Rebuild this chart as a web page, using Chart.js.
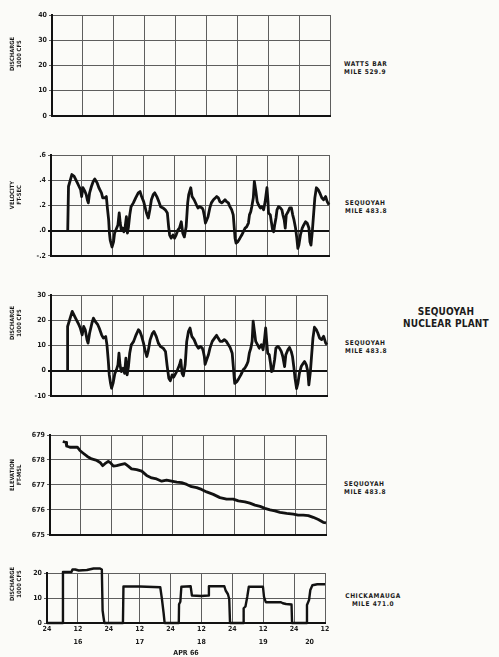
<!DOCTYPE html>
<html>
<head>
<meta charset="utf-8">
<script src="https://cdn.jsdelivr.net/npm/chart.js@4.4.1/dist/chart.umd.min.js"></script>
<style>
body { margin: 0; width: 499px; height: 657px; overflow: hidden; position: relative; background: #fbfbf8;
  font-family: 'DejaVu Sans Condensed', 'DejaVu Sans', sans-serif; font-weight: bold; color: #1b1b1b; }
canvas { position: absolute; left: 0; }
.side { position: absolute; font-size: 6.5px; line-height: 8px; letter-spacing: 0.6px; white-space: nowrap; }
.ytitle { position: absolute; font-size: 5.8px; line-height: 6.5px; text-align: center; white-space: nowrap;
  transform: translate(-50%, -50%) rotate(-90deg); }
.plant { position: absolute; font-size: 10px; line-height: 12px; text-align: center; white-space: nowrap; letter-spacing: 0.2px; }
</style>
</head>
<body>
<canvas id="c1"></canvas>
<canvas id="c2"></canvas>
<canvas id="c3"></canvas>
<canvas id="c4"></canvas>
<canvas id="c5"></canvas>

<div class="ytitle" style="left:15px;top:54px">DISCHARGE<br>1000 CFS</div>
<div class="ytitle" style="left:15px;top:195px">VELOCITY<br>FT-SEC</div>
<div class="ytitle" style="left:15px;top:323px">DISCHARGE<br>1000 CFS</div>
<div class="ytitle" style="left:15px;top:475px">ELEVATION<br>FT-MSL</div>
<div class="ytitle" style="left:15px;top:584px">DISCHARGE<br>1000 CFS</div>

<div class="side" style="left:344px;top:60px">WATTS BAR<br>MILE 529.9</div>
<div class="side" style="left:345px;top:199px">SEQUOYAH<br>MILE 483.8</div>
<div class="side" style="left:345px;top:339px">SEQUOYAH<br>MILE 483.8</div>
<div class="plant" style="left:396px;top:306px;width:100px">SEQUOYAH<br>NUCLEAR PLANT</div>
<div class="side" style="left:344px;top:480px">SEQUOYAH<br>MILE 483.8</div>
<div class="side" style="left:340px;top:592px;text-align:center;width:66px">CHICKAMAUGA<br>MILE 471.0</div>

<script>
// x axis: hours from 24:00 Apr 15 to 12:00 Apr 20
const HOUR_TICKS = [0, 12, 24, 36, 48, 60, 72, 84, 96, 108];
const HOUR_LABELS = ['24', '12', '24', '12', '24', '12', '24', '12', '24', '12'];
const DAY_TICKS = [12, 36, 60, 84, 102];
const DAY_LABELS = ['16', '17', '18', '19', '20'];
const MONTH_LABEL = 'APR 66';

// y ticks per panel
const WATTS_TICKS = [0, 10, 20, 30, 40];
const WATTS_LABELS = ['0', '10', '20', '30', '40'];
const VEL_TICKS = [-0.2, 0, 0.2, 0.4, 0.6];
const VEL_LABELS = ['-.2', '.0', '.2', '.4', '.6'];
const SEQ_Q_TICKS = [-10, 0, 10, 20, 30];
const SEQ_Q_LABELS = ['-10', '0', '10', '20', '30'];
const ELEV_TICKS = [675, 676, 677, 678, 679];
const ELEV_LABELS = ['675', '676', '677', '678', '679'];
const CHICK_TICKS = [0, 10, 20];
const CHICK_LABELS = ['0', '10', '20'];

// Sequoyah velocity, ft/sec
const velHours = [6.5, 6.8, 8.1, 9.0, 10.2, 10.9, 11.5, 11.9, 12.4, 13.2, 13.7, 14.1, 14.5, 15.0, 15.7, 16.4, 17.0, 17.9, 18.6, 19.6,
  20.1, 20.9, 21.5, 21.9, 22.4, 22.7, 23.0, 23.7, 24.3, 24.7, 25.2, 26.0, 26.5, 26.9, 27.3, 27.8, 28.3, 28.8, 29.3, 29.7,
  30.1, 30.6, 31.1, 32.0, 32.9, 33.9, 34.6, 35.2, 36.0, 36.5, 37.1, 37.8, 38.4, 39.0, 39.7, 40.3, 41.1, 41.9, 42.6, 43.5,
  44.4, 45.2, 45.7, 46.1, 46.7, 47.4, 48.0, 48.6, 49.3, 49.9, 50.6, 51.2, 51.8, 52.5, 53.1, 53.5, 54.3, 54.8, 55.6, 56.5,
  57.1, 57.8, 58.7, 59.1, 59.5, 60.0, 60.5, 61.0, 61.7, 62.3, 63.1, 63.9, 64.4, 65.0, 65.6, 66.3, 66.9, 67.6, 68.2, 68.9,
  69.5, 70.2, 70.8, 71.2, 71.5, 71.9, 72.5, 73.4, 74.1, 74.7, 75.4, 76.0, 76.7, 77.1, 77.6, 78.0, 78.6, 79.0, 79.6, 80.1,
  80.6, 81.3, 81.9, 82.6, 83.2, 83.9, 84.3, 84.5, 85.2, 85.6, 86.1, 86.5, 86.9, 87.4, 87.8, 88.4, 89.1, 89.7, 90.1, 90.6,
  91.0, 91.4, 92.1, 92.7, 93.4, 93.9, 94.4, 95.0, 95.5, 95.9, 96.3, 96.9, 97.6, 98.2, 98.9, 99.5, 100.2, 100.6, 101.0, 101.5,
  102.0, 102.5, 103.1, 103.8, 104.4, 105.2, 105.9, 106.7, 107.3, 108.0];
const velValues = [0, .35, .445, .43, .38, .35, .325, .27, .34, .31, .285, .245, .22, .30, .35, .39, .41, .38, .34, .30,
  .26, .26, .27, .18, .085, -.02, -.075, -.13, -.09, -.02, .005, .045, .14, .06, .005, .02, -.01, .03, .11, -.02,
  .03, .125, .19, .22, .26, .30, .31, .27, .23, .19, .14, .10, .165, .245, .285, .30, .27, .23, .19, .18,
  .165, .14, .03, -.035, -.06, -.035, -.06, -.035, .005, .02, .07, -.02, -.05, .03, .22, .285, .34, .27, .245, .205,
  .18, .19, .18, .165, .125, .06, .085, .11, .18, .22, .245, .26, .27, .26, .23, .22, .23, .245, .23, .22,
  .19, .165, .125, .02, -.06, -.10, -.09, -.06, -.035, -.01, .02, .03, .06, .125, .15, .19, .26, .39, .31, .23,
  .205, .18, .19, .165, .23, .34, .23, .14, .125, .07, .005, -.01, .045, .10, .165, .19, .18, .165, .125, .085,
  .02, .125, .15, .18, .18, .125, .085, .02, -.06, -.14, -.115, -.035, .02, .045, .07, .06, .02, -.09, -.115, -.01,
  .125, .26, .34, .325, .30, .26, .245, .27, .23, .205];

// Sequoyah discharge, 1000 cfs
const seqHours = [6.4, 6.5, 8.3, 9.6, 10.9, 11.5, 12.2, 12.8, 13.4, 14.1, 14.5, 15.1, 16.0, 16.6, 17.3, 18.3, 18.9, 19.8, 20.5, 21.4,
  21.9, 22.4, 22.8, 23.3, 23.7, 24.3, 25.0, 25.6, 26.2, 26.6, 27.0, 27.5, 28.2, 28.8, 29.3, 29.8, 30.3, 30.8, 31.4, 32.3,
  33.3, 34.2, 34.8, 35.5, 36.2, 36.9, 37.5, 38.0, 38.8, 39.7, 40.3, 41.2, 42.0, 42.9, 43.9, 44.8, 45.4, 46.1, 46.7, 47.4,
  48.0, 48.8, 49.5, 50.3, 50.8, 51.3, 51.8, 52.5, 53.1, 53.8, 54.4, 55.1, 56.0, 56.8, 57.7, 58.4, 59.2, 59.6, 60.0, 60.3,
  60.9, 61.6, 62.2, 63.1, 64.2, 64.8, 65.4, 66.2, 67.0, 67.8, 68.6, 69.3, 70.1, 70.9, 71.4, 71.7, 71.9, 72.7, 73.5, 74.3,
  75.2, 75.8, 76.6, 77.1, 77.6, 78.2, 78.7, 79.1, 79.6, 80.1, 80.8, 81.5, 82.3, 83.0, 83.6, 84.0, 84.4, 84.8, 85.4, 85.9,
  86.3, 86.8, 87.5, 88.0, 88.8, 89.4, 90.1, 90.7, 91.4, 91.9, 92.7, 93.3, 94.0, 94.5, 95.0, 95.5, 96.1, 96.6, 97.2, 97.9,
  98.7, 99.2, 99.9, 100.5, 100.9, 101.5, 102.0, 102.5, 103.1, 103.8, 104.4, 105.1, 105.9, 106.7, 107.5, 108.0];
const seqValues = [0, 17.5, 23.5, 20.8, 18.2, 16.8, 14.2, 17.5, 16.2, 12.2, 10.9, 14.8, 18.8, 20.8, 19.5, 18.2, 16.8, 14.2, 12.9, 13.5,
  10.2, 4.2, -1.7, -5.0, -7.0, -5.0, -1.1, 0.3, 2.3, 6.9, 2.3, -0.4, 0.9, -1.1, 4.9, -1.7, 1.6, 6.9, 10.2, 11.5,
  14.2, 16.2, 15.5, 13.5, 10.9, 7.6, 5.6, 7.6, 12.2, 14.8, 15.5, 13.5, 10.9, 9.5, 8.9, 7.6, 2.3, -3.0, -4.0, -1.7,
  -2.6, -1.1, 0.3, 2.3, 4.2, -1.1, -2.1, 2.3, 11.5, 15.6, 16.9, 13.6, 12.3, 10.3, 8.9, 9.6, 8.9, 7.6, 5.6, 2.5,
  4.3, 6.3, 8.9, 11.6, 13.2, 14.0, 12.9, 11.6, 11.6, 12.3, 11.6, 10.5, 9.2, 6.9, 0.9, -3.1, -5.1, -4.4, -3.1, -1.7,
  0.3, 0.9, 2.3, 3.6, 6.9, 8.9, 11.6, 19.6, 15.6, 11.6, 10.3, 8.9, 10.3, 8.3, 12.9, 16.9, 11.6, 6.9, 6.3, 2.9,
  -0.4, -0.1, 4.3, 8.9, 9.6, 8.9, 7.6, 5.6, 1.6, 6.3, 8.3, 9.2, 7.6, 5.6, 1.6, -3.1, -7.1, -5.1, -1.1, 1.6,
  2.9, 3.6, 2.3, -0.4, -5.7, -0.4, 6.3, 12.9, 17.2, 16.3, 14.9, 12.9, 12.3, 13.6, 10.9, 10.3];

// Sequoyah elevation, ft-msl
const elevHours = [5.0, 6.3, 6.5, 7.8, 9.1, 10.7, 11.7, 13.0, 14.6, 16.3, 18.3, 19.6, 20.6, 21.5, 22.8, 23.7, 24.8, 26.1, 27.6, 29.3,
  30.6, 31.9, 33.9, 35.9, 37.8, 39.8, 41.7, 43.7, 45.6, 47.6, 49.6, 51.5, 53.5, 55.4, 57.4, 59.3, 61.3, 63.9, 66.5, 69.1,
  71.7, 73.7, 76.3, 78.2, 80.2, 82.2, 84.1, 86.1, 88.0, 90.0, 92.6, 95.2, 97.1, 99.1, 101.1, 103.0, 105.0, 106.9, 108.0];
const elevValues = [678.74, 678.70, 678.56, 678.51, 678.51, 678.51, 678.38, 678.27, 678.14, 678.04, 677.98, 677.90, 677.77, 677.85, 677.94, 677.88, 677.75, 677.77, 677.81, 677.85,
  677.75, 677.64, 677.61, 677.55, 677.38, 677.28, 677.24, 677.15, 677.19, 677.15, 677.11, 677.09, 677.02, 676.93, 676.89, 676.82, 676.72, 676.62, 676.49, 676.43,
  676.43, 676.36, 676.32, 676.27, 676.19, 676.14, 676.06, 676.00, 675.96, 675.90, 675.86, 675.83, 675.79, 675.79, 675.77, 675.70, 675.61, 675.50, 675.48];

// Chickamauga discharge, 1000 cfs
const chickHours = [0, 6.0, 6.2, 9.5, 9.9, 11.0, 12.3, 15.5, 18.1, 20.6, 21.3, 21.6, 22.0, 22.3,
  29.5, 29.7, 36.0, 44.0, 44.6, 45.3, 45.7,
  51.2, 51.3, 51.8, 52.2, 55.8, 56.3, 60.0, 62.6, 62.9, 68.9, 69.4, 70.3, 70.8, 71.1,
  76.3, 76.4, 77.1, 77.8, 78.4, 83.9, 84.3, 85.0, 90.9, 91.6, 92.9, 95.0, 95.2,
  100.9, 101.0, 101.8, 102.3, 103.1, 105.0, 108.0];
const chickValues = [0, 0, 20.4, 20.4, 21.4, 21.4, 21.0, 21.2, 21.8, 21.8, 21.4, 5, 2, 0,
  0, 14.6, 14.6, 14.3, 10, 4, 0,
  0, 7.5, 8.5, 14.5, 14.7, 11, 10.8, 11, 14.7, 14.7, 13, 11.5, 9.5, 0,
  0, 5.9, 6.6, 10.5, 14.5, 14.5, 10.5, 8.3, 8.3, 7.9, 7.6, 7.4, 0,
  0, 7.2, 9.2, 13.2, 15.1, 15.5, 15.5];

Chart.defaults.font.family = "'DejaVu Sans Condensed', 'DejaVu Sans', sans-serif";
Chart.defaults.font.size = 7;
Chart.defaults.font.weight = 'bold';
Chart.defaults.color = '#1b1b1b';

const INK = '#121212';
const GRID = '#5e5e5e';

function pts(hours, values) {
  return hours.map((h, i) => ({ x: h, y: values[i] }));
}

function makePanel(id, box, yTicks, yLabels, hours, values, withDates) {
  const cv = document.getElementById(id);
  const padTop = 8, padRight = 10;
  const below = withDates ? 38 : 5;
  cv.width = box.r + padRight;
  cv.height = box.b - box.t + padTop + below;
  cv.style.top = (box.t - padTop) + 'px';

  const scales = {
    x: {
      type: 'linear', min: 0, max: 108,
      afterBuildTicks: s => { s.ticks = HOUR_TICKS.map(v => ({ value: v })); },
      afterFit: s => { s.height = withDates ? 13 : 0; },
      ticks: { display: withDates, padding: 2, maxRotation: 0, autoSkip: false,
        callback: (v, i) => HOUR_LABELS[i] },
      grid: { color: GRID, lineWidth: 1, drawTicks: false },
      border: { color: INK, width: 2 }
    },
    y: {
      type: 'linear', min: yTicks[0], max: yTicks[yTicks.length - 1],
      afterBuildTicks: s => { s.ticks = yTicks.map(v => ({ value: v })); },
      afterFit: s => { s.width = box.l; },
      ticks: { padding: 2, callback: (v, i) => yLabels[i] },
      grid: {
        color: c => (c.tick && c.tick.value === 0 && yTicks[0] < 0) ? INK : GRID,
        lineWidth: c => (c.tick && c.tick.value === 0 && yTicks[0] < 0) ? 2 : 1,
        tickLength: 3
      },
      border: { color: INK, width: 2 }
    }
  };
  if (withDates) {
    scales.days = {
      type: 'linear', axis: 'x', position: 'bottom', weight: 1, min: 0, max: 108,
      afterBuildTicks: s => { s.ticks = DAY_TICKS.map(v => ({ value: v })); },
      afterFit: s => { s.height = 22; },
      ticks: { padding: 2, maxRotation: 0, autoSkip: false, callback: (v, i) => DAY_LABELS[i] },
      grid: { display: false, drawTicks: false },
      border: { display: false },
      title: { display: true, text: MONTH_LABEL, padding: { top: 0, bottom: 1 } }
    };
  }

  const datasets = hours ? [{
    data: pts(hours, values),
    borderColor: INK, borderWidth: withDates ? 2.4 : 2.8,
    pointRadius: 0, tension: 0, fill: false, clip: false,
    borderJoinStyle: 'round'
  }] : [];

  return new Chart(cv, {
    type: 'line',
    data: { datasets },
    options: {
      responsive: false, animation: false, devicePixelRatio: 1,
      layout: { padding: { top: padTop, right: padRight, bottom: withDates ? 2 : 5, left: 0 } },
      plugins: { legend: { display: false }, tooltip: { enabled: false } },
      scales
    }
  });
}

makePanel('c1', { l: 52, r: 330, t: 15, b: 117 }, WATTS_TICKS, WATTS_LABELS, null, null, false);
makePanel('c2', { l: 51, r: 329, t: 155, b: 257 }, VEL_TICKS, VEL_LABELS, velHours, velValues, false);
makePanel('c3', { l: 51, r: 327, t: 295, b: 397 }, SEQ_Q_TICKS, SEQ_Q_LABELS, seqHours, seqValues, false);
makePanel('c4', { l: 50, r: 326, t: 435, b: 536 }, ELEV_TICKS, ELEV_LABELS, elevHours, elevValues, false);
makePanel('c5', { l: 47, r: 325, t: 573, b: 622 }, CHICK_TICKS, CHICK_LABELS, chickHours, chickValues, true);
</script>
</body>
</html>
